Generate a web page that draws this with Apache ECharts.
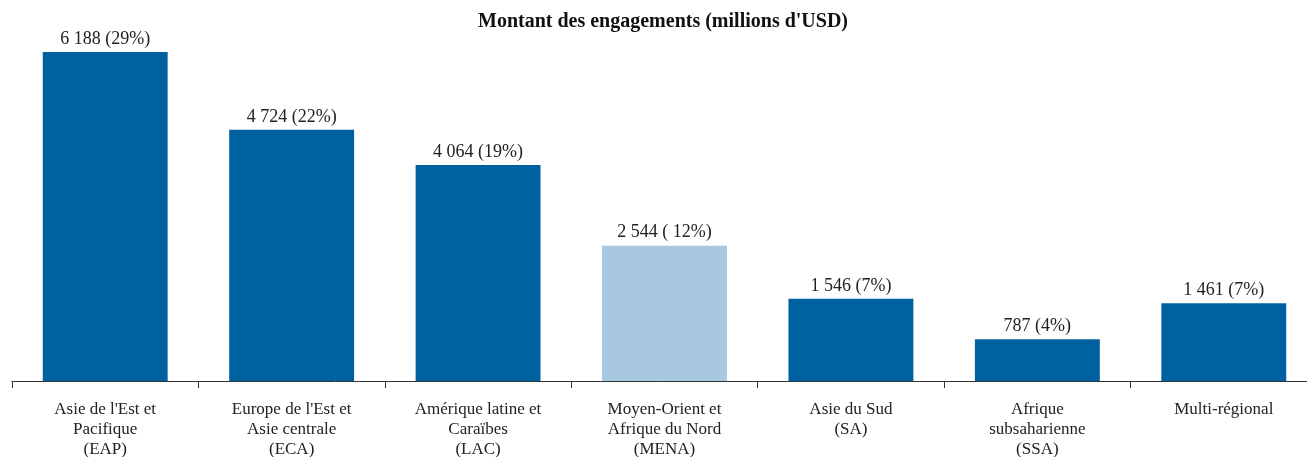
<!DOCTYPE html>
<html lang="fr">
<head>
    <meta charset="UTF-8">
    <title>Montant des engagements</title>
    <script src="https://cdn.jsdelivr.net/npm/echarts@6/dist/echarts.min.js"></script>
    <style>
        html, body { margin: 0; padding: 0; background: #fff; }
        #main { width: 1307px; height: 457px; }
    </style>
</head>
<body>
    <div id="main"></div>
    <script>
        // regions (axis labels) and commitments in millions USD
        var regions = [
            "Asie de l'Est et\nPacifique\n(EAP)",
            "Europe de l'Est et\nAsie centrale\n(ECA)",
            "Amérique latine et\nCaraïbes\n(LAC)",
            "Moyen-Orient et\nAfrique du Nord\n(MENA)",
            "Asie du Sud\n(SA)",
            "Afrique\nsubsaharienne\n(SSA)",
            "Multi-régional"
        ];
        var amounts = [6188, 4724, 4064, 2544, 1546, 787, 1461];
        var barLabels = ["6 188 (29%)", "4 724 (22%)", "4 064 (19%)", "2 544 ( 12%)", "1 546 (7%)", "787 (4%)", "1 461 (7%)"];
        var highlight = [false, false, false, true, false, false, false];

        var dark = '#0061A0';
        var light = '#A7C8DF';
        var font = '"Liberation Serif", "DejaVu Serif", serif';

        var chart = echarts.init(document.getElementById('main'));

        var seriesData = [];
        for (var i = 0; i < amounts.length; i++) {
            seriesData.push({
                value: amounts[i],
                itemStyle: { color: highlight[i] ? light : dark }
            });
        }

        chart.setOption({
            animation: false,
            title: {
                text: "Montant des engagements (millions d'USD)",
                left: 478,
                top: 12,
                padding: 0,
                textStyle: { fontFamily: font, fontSize: 20, fontWeight: 'bold', color: '#111' }
            },
            grid: {
                left: 12, width: 1305, top: 8.8, bottom: 76,
                containLabel: false,
                outerBoundsMode: 'none'
            },
            xAxis: {
                type: 'category',
                data: regions,
                axisLine: { lineStyle: { color: '#333', width: 1 } },
                axisTick: { show: true, length: 7, alignWithLabel: false, lineStyle: { color: '#333' } },
                axisLabel: {
                    interval: 0,
                    margin: 19,
                    fontFamily: font,
                    fontSize: 17,
                    lineHeight: 20,
                    color: '#222'
                }
            },
            yAxis: {
                type: 'value',
                min: 0,
                max: 7000,
                show: false,
                splitLine: { show: false }
            },
            series: [{
                type: 'bar',
                barWidth: '67%',
                data: seriesData,
                label: {
                    show: true,
                    position: 'top',
                    distance: 4,
                    fontFamily: font,
                    fontSize: 18,
                    color: '#222',
                    formatter: function (p) { return barLabels[p.dataIndex]; }
                }
            }]
        });
    </script>
</body>
</html>
